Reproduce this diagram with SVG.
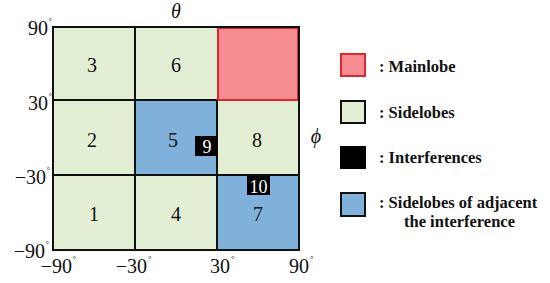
<svg xmlns="http://www.w3.org/2000/svg" width="550" height="283" viewBox="0 0 550 283" font-family="'Liberation Serif', 'Times New Roman', serif">
<style>
text{font-family:'Liberation Serif','Times New Roman',serif;fill:#111}
.ax{font-size:20px}
.deg{font-size:9px}
.num{font-size:20px;text-anchor:middle}
.lg{font-size:16.5px;font-weight:bold}
.grid{stroke:#111;stroke-width:2;fill:none}
.side{fill:#e2efd5}
.adj{fill:#7fb1da}
.main{fill:#f58d92;stroke:#e3262d;stroke-width:2}
.intf{fill:#000}
</style>
<rect width="550" height="283" fill="#fff"/>
<g id="cells">
<rect class="side" x="53" y="27" width="164" height="223"/>
<rect class="side" x="217" y="100" width="82" height="75"/>
<rect class="adj" x="135" y="100" width="82" height="75"/>
<rect class="adj" x="217" y="175" width="82" height="75"/>
<rect class="main" x="218" y="28" width="80" height="72"/>
</g>
<g id="connectors">
<rect class="grid" x="53" y="27" width="246" height="223"/>
<line class="grid" x1="135" y1="27" x2="135" y2="250"/>
<line class="grid" x1="217" y1="100" x2="217" y2="250"/>
<line class="grid" x1="53" y1="100" x2="217" y2="100"/>
<line class="grid" x1="53" y1="175" x2="299" y2="175"/>
</g>
<g id="cell-labels">
<text class="num" x="92" y="72">3</text>
<text class="num" x="176" y="72">6</text>
<text class="num" x="92" y="147">2</text>
<text class="num" x="173" y="147">5</text>
<text class="num" x="257" y="147">8</text>
<text class="num" x="94" y="221">1</text>
<text class="num" x="176" y="221">4</text>
<text class="num" x="258" y="221">7</text>
</g>
<g id="interf9">
<rect class="intf" x="195" y="136" width="22" height="20"/>
<text x="207" y="153" font-size="18" text-anchor="middle" style="fill:#fff">9</text>
</g>
<g id="interf10">
<rect class="intf" x="247" y="176" width="23" height="19"/>
<text x="258.5" y="193" font-size="18" text-anchor="middle" style="fill:#fff">10</text>
</g>
<g id="axes">
<text class="ax" x="48" y="35" text-anchor="end">90</text><text class="deg" x="48.5" y="24">°</text>
<text class="ax" x="48" y="110" text-anchor="end">30</text><text class="deg" x="48.5" y="99">°</text>
<text class="ax" x="46" y="184" text-anchor="end">−30</text><text class="deg" x="46.5" y="173">°</text>
<text class="ax" x="45" y="258" text-anchor="end">−90</text><text class="deg" x="45.5" y="247">°</text>
<text class="ax" x="72" y="273" text-anchor="end">−90</text><text class="deg" x="72.5" y="262">°</text>
<text class="ax" x="147" y="273" text-anchor="end">−30</text><text class="deg" x="148" y="262">°</text>
<text class="ax" x="230" y="273" text-anchor="end">30</text><text class="deg" x="231" y="262">°</text>
<text class="ax" x="309" y="273" text-anchor="end">90</text><text class="deg" x="310" y="262">°</text>
<text x="176" y="18" font-size="20" font-style="italic" text-anchor="middle">θ</text>
<text x="316" y="143" font-size="20" font-style="italic" text-anchor="middle">ϕ</text>
</g>
<g id="legend-main">
<rect x="341" y="54" width="24" height="22" fill="#f58d92" stroke="#e3262d" stroke-width="2"/>
<text class="lg" x="379" y="72">: Mainlobe</text>
</g>
<g id="legend-side">
<rect x="341" y="101" width="24" height="22" fill="#e2efd5" stroke="#111" stroke-width="2"/>
<text class="lg" x="379" y="118">: Sidelobes</text>
</g>
<g id="legend-intf">
<rect x="340" y="146" width="26" height="23" fill="#000"/>
<text class="lg" x="379" y="163">: Interferences</text>
</g>
<g id="legend-adj">
<rect x="341" y="193" width="24" height="23" fill="#7fb1da" stroke="#111" stroke-width="2"/>
<text class="lg" x="379" y="208">: Sidelobes of adjacent</text>
<text class="lg" x="404" y="227">the interference</text>
</g>
</svg>
